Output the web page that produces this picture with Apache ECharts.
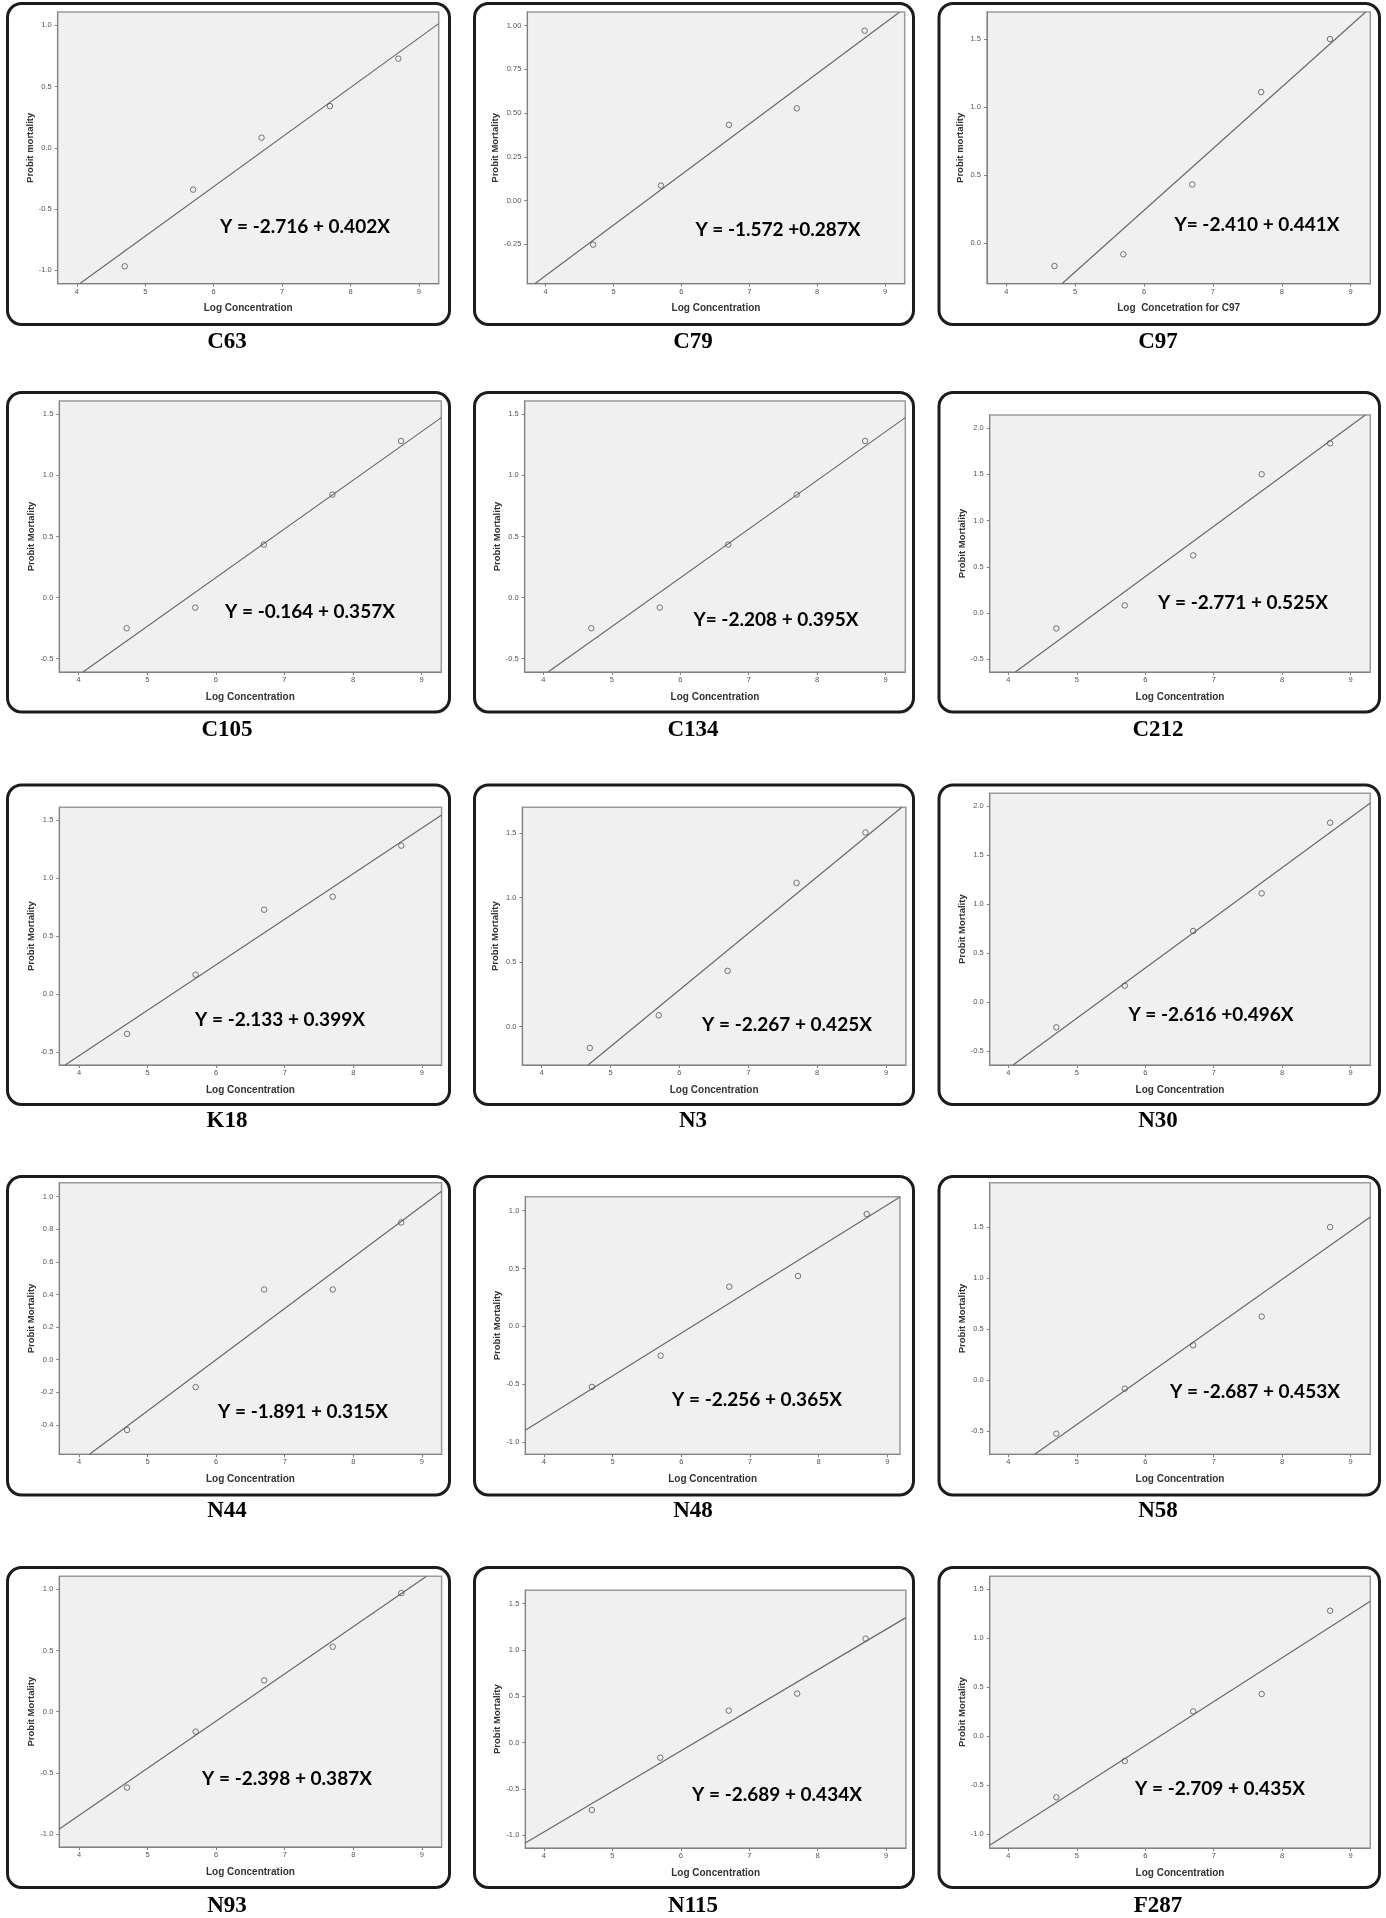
<!DOCTYPE html>
<html>
<head>
<meta charset="utf-8">
<script src="https://cdn.jsdelivr.net/npm/echarts@6/dist/echarts.min.js"></script>
<style>
html,body{margin:0;padding:0;background:#fff;}
#c{width:1386px;height:1918px;}
</style>
</head>
<body>
<div id="c"></div>
<script>
// ---------------- DATA ----------------
const panelNames = ['C63','C79','C97','C105','C134','C212','K18','N3','N30','N44','N48','N58','N93','N115','F287'];
const logConc = [4.7, 5.7, 6.7, 7.7, 8.7];
const xTickValues = [4, 5, 6, 7, 8, 9];

const probitC63  = [-0.967, -0.341, 0.083, 0.341, 0.728];
const probitC79  = [-0.252, 0.086, 0.433, 0.527, 0.971];
const probitC97  = [-0.169, -0.083, 0.431, 1.110, 1.500];
const probitC105 = [-0.251, -0.082, 0.434, 0.843, 1.282];
const probitC134 = [-0.251, -0.082, 0.434, 0.843, 1.282];
const probitC212 = [-0.166, 0.083, 0.623, 1.500, 1.834];
const probitK18  = [-0.342, 0.167, 0.727, 0.839, 1.279];
const probitN3   = [-0.165, 0.088, 0.432, 1.114, 1.504];
const probitN30  = [-0.255, 0.170, 0.728, 1.112, 1.833];
const probitN44  = [-0.431, -0.168, 0.431, 0.431, 0.842];
const probitN48  = [-0.524, -0.254, 0.343, 0.435, 0.971];
const probitN58  = [-0.523, -0.082, 0.343, 0.624, 1.500];
const probitN93  = [-0.621, -0.163, 0.256, 0.531, 0.970];
const probitN115 = [-0.727, -0.162, 0.345, 0.529, 1.122];
const probitF287 = [-0.622, -0.252, 0.255, 0.432, 1.282];

// fitted line end points [[x0,y0],[x1,y1]]
const fitC63  = [[4.04, -1.109], [9.29, 1.014]];
const fitC79  = [[3.84, -0.475], [9.216, 1.078]];
const fitC97  = [[4.808, -0.299], [9.218, 1.699]];
const fitC105 = [[4.063, -0.609], [9.287, 1.473]];
const fitC134 = [[4.068, -0.609], [9.287, 1.473]];
const fitC212 = [[4.102, -0.637], [9.214, 2.14]];
const fitK18  = [[3.797, -0.61], [9.288, 1.543]];
const fitN3   = [[4.675, -0.297], [9.228, 1.699]];
const fitN30  = [[4.068, -0.639], [9.287, 2.034]];
const fitN44  = [[4.153, -0.58], [9.288, 1.034]];
const fitN48  = [[3.73, -0.899], [9.185, 1.118]];
const fitN58  = [[4.385, -0.725], [9.287, 1.598]];
const fitN93  = [[3.712, -0.959], [9.068, 1.107]];
const fitN115 = [[3.728, -1.083], [9.289, 1.349]];
const fitF287 = [[3.727, -1.112], [9.287, 1.378]];

const equations = [
  'Y = -2.716 + 0.402X', 'Y = -1.572 +0.287X', 'Y= -2.410 + 0.441X',
  'Y = -0.164 + 0.357X', 'Y= -2.208 + 0.395X', 'Y = -2.771 + 0.525X',
  'Y = -2.133 + 0.399X', 'Y = -2.267 + 0.425X', 'Y = -2.616 +0.496X',
  'Y = -1.891 + 0.315X', 'Y = -2.256 + 0.365X', 'Y = -2.687 + 0.453X',
  'Y = -2.398 + 0.387X', 'Y = -2.689 + 0.434X', 'Y = -2.709 + 0.435X'
];

const xTitles = ['Log Concentration','Log Concentration','Log  Concetration for C97',
  'Log Concentration','Log Concentration','Log Concentration',
  'Log Concentration','Log Concentration','Log Concentration',
  'Log Concentration','Log Concentration','Log Concentration',
  'Log Concentration','Log Concentration','Log Concentration'];
const yTitles = ['Probit mortality','Probit Mortality','Probit mortality',
  'Probit Mortality','Probit Mortality','Probit Mortality',
  'Probit Mortality','Probit Mortality','Probit Mortality',
  'Probit Mortality','Probit Mortality','Probit Mortality',
  'Probit Mortality','Probit Mortality','Probit Mortality'];

const yMinList = [-1.109, -0.475, -0.299, -0.609, -0.609, -0.637, -0.61, -0.297, -0.639, -0.58, -1.107, -0.725, -1.107, -1.137, -1.139];
const yMaxList = [1.109, 1.078, 1.699, 1.609, 1.609, 2.14, 1.609, 1.699, 2.133, 1.086, 1.121, 1.935, 1.107, 1.644, 1.633];
const xMinList = [3.72, 3.73, 3.72, 3.718, 3.727, 3.727, 3.712, 3.722, 3.727, 3.712, 3.73, 3.727, 3.712, 3.728, 3.727];
const xMaxList = [9.29, 9.29, 9.285, 9.287, 9.287, 9.287, 9.288, 9.287, 9.287, 9.288, 9.185, 9.287, 9.288, 9.289, 9.287];

const yTicksC63  = [-1.0, -0.5, 0.0, 0.5, 1.0];
const yTicksC79  = [-0.25, 0.0, 0.25, 0.5, 0.75, 1.0];
const yTicksC97  = [0.0, 0.5, 1.0, 1.5];
const yTicksC105 = [-0.5, 0.0, 0.5, 1.0, 1.5];
const yTicksC134 = [-0.5, 0.0, 0.5, 1.0, 1.5];
const yTicksC212 = [-0.5, 0.0, 0.5, 1.0, 1.5, 2.0];
const yTicksK18  = [-0.5, 0.0, 0.5, 1.0, 1.5];
const yTicksN3   = [0.0, 0.5, 1.0, 1.5];
const yTicksN30  = [-0.5, 0.0, 0.5, 1.0, 1.5, 2.0];
const yTicksN44  = [-0.4, -0.2, 0.0, 0.2, 0.4, 0.6, 0.8, 1.0];
const yTicksN48  = [-1.0, -0.5, 0.0, 0.5, 1.0];
const yTicksN58  = [-0.5, 0.0, 0.5, 1.0, 1.5];
const yTicksN93  = [-1.0, -0.5, 0.0, 0.5, 1.0];
const yTicksN115 = [-1.0, -0.5, 0.0, 0.5, 1.0, 1.5];
const yTicksF287 = [-1.0, -0.5, 0.0, 0.5, 1.0, 1.5];
const yDecimals  = [1, 2, 1, 1, 1, 1, 1, 1, 1, 1, 1, 1, 1, 1, 1];

const probitList = [probitC63, probitC79, probitC97, probitC105, probitC134, probitC212, probitK18, probitN3, probitN30, probitN44, probitN48, probitN58, probitN93, probitN115, probitF287];
const fitList = [fitC63, fitC79, fitC97, fitC105, fitC134, fitC212, fitK18, fitN3, fitN30, fitN44, fitN48, fitN58, fitN93, fitN115, fitF287];
const yTickList = [yTicksC63, yTicksC79, yTicksC97, yTicksC105, yTicksC134, yTicksC212, yTicksK18, yTicksN3, yTicksN30, yTicksN44, yTicksN48, yTicksN58, yTicksN93, yTicksN115, yTicksF287];

// ---------------- LAYOUT ----------------
// plot areas [left, top, right, bottom] in px
const plotRects = [
  [57.7, 12, 438.7, 283.7], [527.3, 12, 904.7, 283.7], [987, 12, 1370.3, 283.7],
  [59.3, 401, 441.3, 672], [524.7, 401, 905.3, 672], [989.7, 415, 1370.3, 672],
  [59.3, 807.3, 441.6, 1065], [522.4, 807.3, 905.9, 1065], [989.7, 793.3, 1370.3, 1065],
  [59.3, 1182.7, 441.6, 1454.3], [525.3, 1196.7, 900, 1454.3], [989.7, 1182.7, 1370.3, 1454.3],
  [59.3, 1576.3, 441.6, 1847], [525.3, 1590.3, 905.9, 1848], [989.7, 1576.3, 1370.3, 1848]
];
const colFrames = [[7.5, 449.5], [474.5, 913.5], [939, 1379.5]];
const rowFrames = [[3.5, 324.5], [392.5, 712], [785, 1104.5], [1176.5, 1495], [1567.5, 1887.5]];
const labelRowY = [342, 730, 1121, 1511, 1906];
const labelColX = [227, 693, 1158];
const eqPos = [
  [305, 227], [778, 230], [1257, 225],
  [310, 612], [776, 620], [1243, 603],
  [280, 1020], [787, 1025], [1211, 1015],
  [303, 1412], [757, 1400], [1255, 1392],
  [287, 1779], [777, 1795], [1220, 1789]
];

// ---------------- BUILD ----------------
const grids = [], xAxes = [], yAxes = [], series = [], graphics = [];
const axisColor = '#808080';
panelNames.forEach((name, i) => {
  const r = plotRects[i];
  grids.push({
    left: r[0], top: r[1], width: r[2] - r[0], height: r[3] - r[1],
    show: true, backgroundColor: '#f0f0f0', borderColor: '#9a9a9a', borderWidth: 1.5,
    containLabel: false
  });
  xAxes.push({
    type: 'value', gridIndex: i, min: xMinList[i], max: xMaxList[i],
    axisLine: { show: true, onZero: false, lineStyle: { color: axisColor, width: 1 } },
    axisTick: { show: true, length: 3, customValues: xTickValues, lineStyle: { color: axisColor } },
    axisLabel: { customValues: xTickValues, fontSize: 7.5, color: '#555', margin: 4, fontFamily: 'Liberation Sans' },
    splitLine: { show: false },
    name: xTitles[i], nameLocation: 'middle', nameGap: 20,
    nameTextStyle: { fontSize: 10, fontWeight: 'bold', color: '#333', fontFamily: 'Liberation Sans' }
  });
  const dec = yDecimals[i];
  yAxes.push({
    type: 'value', gridIndex: i, min: yMinList[i], max: yMaxList[i],
    axisLine: { show: true, onZero: false, lineStyle: { color: axisColor, width: 1 } },
    axisTick: { show: true, length: 3, customValues: yTickList[i], lineStyle: { color: axisColor } },
    axisLabel: { customValues: yTickList[i], fontSize: 7.5, color: '#555', margin: 6, fontFamily: 'Liberation Sans',
      formatter: v => Number(v).toFixed(dec) },
    splitLine: { show: false },
    name: yTitles[i], nameLocation: 'middle', nameGap: 22,
    nameTextStyle: { fontSize: 9.5, fontWeight: 'bold', color: '#333', fontFamily: 'Liberation Sans' }
  });
  series.push({
    type: 'line', xAxisIndex: i, yAxisIndex: i, data: fitList[i],
    showSymbol: false, symbol: 'none', clip: true, silent: true,
    lineStyle: { color: '#6a6a6a', width: 1.2 }, z: 2
  });
  series.push({
    type: 'scatter', xAxisIndex: i, yAxisIndex: i,
    data: logConc.map((x, k) => [x, probitList[i][k]]),
    symbol: 'circle', symbolSize: 5.5, silent: true,
    itemStyle: { color: 'rgba(0,0,0,0)', borderColor: '#555', borderWidth: 1 }, z: 3
  });
  const col = i % 3, row = Math.floor(i / 3);
  const cf = colFrames[col], rf = rowFrames[row];
  graphics.push({
    type: 'rect', z: 0, silent: true,
    shape: { x: cf[0], y: rf[0], width: cf[1] - cf[0], height: rf[1] - rf[0], r: 14 },
    style: { fill: 'none', stroke: '#1c1c1c', lineWidth: 3 }
  });
  graphics.push({
    type: 'text', z: 100, silent: true, x: labelColX[col], y: labelRowY[row],
    style: { text: name, fontFamily: 'Liberation Serif', fontWeight: 'bold', fontSize: 23,
      fill: '#000', align: 'center', verticalAlign: 'middle' }
  });
  graphics.push({
    type: 'text', z: 100, silent: true, x: eqPos[i][0], y: eqPos[i][1],
    style: { text: equations[i], fontFamily: 'Lato', fontWeight: 'bold', fontSize: 19,
      fill: '#000', align: 'center', verticalAlign: 'middle' }
  });
});

const chart = echarts.init(document.getElementById('c'), null, { renderer: 'canvas' });
chart.setOption({
  animation: false,
  backgroundColor: '#ffffff',
  grid: grids, xAxis: xAxes, yAxis: yAxes, series: series, graphic: graphics
});
</script>
</body>
</html>
